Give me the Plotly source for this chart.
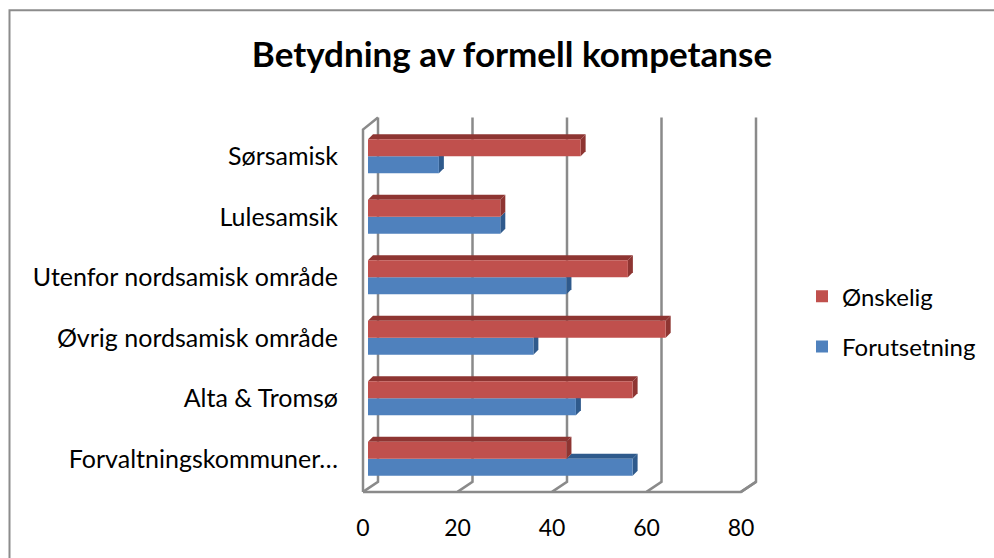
import plotly.graph_objects as go

categories = ["Forvaltningskommuner…", "Alta & Tromsø", "Øvrig nordsamisk område",
              "Utenfor nordsamisk område", "Lulesamsik", "Sørsamisk"]
forutsetning = [56, 44, 35, 42, 28, 15]
onskelig = [42, 56, 63, 55, 28, 45]
x_ticks = [0, 20, 40, 60, 80]

W, H = 994, 558
L, R = 368, 746          # pixel extent of x range [0, 80]
T, B = 125.5, 489.1      # pixel extent of y range [-0.5, 5.5]
XMAX = 80
PXU = XMAX / (R - L)     # data units per pixel (x)
YU = 6 / (B - T)         # data units per pixel (y)

def px(x):
    return (x - L) / (R - L)

def py(y):
    return (B - y) / (B - T)

RED, BLUE = "#C0504D", "#4F81BD"
RED_D, BLUE_D = "#8E3532", "#2F5A8C"
GRID = "#8A8A8A"
FONT = "Lato"

ypos = list(range(len(categories)))
BW = 0.28

fig = go.Figure()
fig.add_trace(go.Bar(y=ypos, x=forutsetning, orientation="h", name="Forutsetning",
                     marker=dict(color=BLUE, line=dict(width=0)), width=BW, offset=-BW,
                     legendgroup="b", legendrank=2))
fig.add_trace(go.Bar(y=ypos, x=onskelig, orientation="h", name="Ønskelig",
                     marker=dict(color=RED, line=dict(width=0)), width=BW, offset=0,
                     legendgroup="a", legendrank=1))

shapes = []
# 3D frame: gridlines (back wall + floor diagonal), left wall, floor
for v in x_ticks:
    xb = px(L + v / PXU + 10)
    xf = px(L + v / PXU - 5)
    shapes.append(dict(type="path", xref="paper", yref="paper", layer="below",
                       path=f"M {xb},{py(117)} L {xb},{py(482)} L {xf},{py(492)}",
                       line=dict(color=GRID, width=2.5)))
shapes.append(dict(type="path", xref="paper", yref="paper", layer="below",
                   path=f"M {px(363)},{py(492)} L {px(363)},{py(129)} L {px(378)},{py(117)}",
                   line=dict(color=GRID, width=2.5)))
shapes.append(dict(type="path", xref="paper", yref="paper", layer="below",
                   path=f"M {px(363)},{py(492)} L {px(741)},{py(492)} L {px(756)},{py(482)}",
                   line=dict(color=GRID, width=2.5)))

# 3D bar faces
dx, dy = 5 * PXU, 5 * YU
for i, (b, r) in enumerate(zip(forutsetning, onskelig)):
    y0 = i - BW
    y1 = i
    if b > r:
        shapes.append(dict(type="path", xref="x", yref="y", layer="below",
                           path=f"M {r},{y1} L {b},{y1} L {b+dx},{y1+dy} L {r+dx},{y1+dy} Z",
                           fillcolor=BLUE_D, line=dict(width=0)))
    shapes.append(dict(type="path", xref="x", yref="y", layer="below",
                       path=f"M {b},{y0} L {b},{y1} L {b+dx},{y1+dy} L {b+dx},{y0+dy} Z",
                       fillcolor=BLUE_D, line=dict(width=0)))
    ry0, ry1 = i, i + BW
    shapes.append(dict(type="path", xref="x", yref="y", layer="below",
                       path=f"M 0,{ry1} L {r},{ry1} L {r+dx},{ry1+dy} L {dx},{ry1+dy} Z",
                       fillcolor=RED_D, line=dict(width=0)))
    shapes.append(dict(type="path", xref="x", yref="y", layer="below",
                       path=f"M {r},{ry0} L {r},{ry1} L {r+dx},{ry1+dy} L {r+dx},{ry0+dy} Z",
                       fillcolor=RED_D, line=dict(width=0)))

# chart border
shapes.append(dict(type="path", xref="paper", yref="paper", layer="above",
                   path=f"M {px(9.5)},{py(570)} L {px(9.5)},{py(9.5)} L {px(1010)},{py(9.5)}",
                   line=dict(color="#8C8C8C", width=2)))

fig.update_layout(
    width=W, height=H,
    margin=dict(l=L, r=W - R, t=T, b=H - B, pad=0),
    paper_bgcolor="white", plot_bgcolor="rgba(0,0,0,0)",
    barmode="overlay",
    font=dict(family=FONT, color="black", size=24),
    title=dict(text="<b>Betydning av formell kompetanse</b>", xref="container",
               x=512 / W, xanchor="center",
               yref="container", y=1 - 55 / H, yanchor="middle",
               font=dict(family=FONT, size=35, color="black")),
    xaxis=dict(range=[0, XMAX], tickvals=x_ticks, ticktext=[str(v) for v in x_ticks],
               showgrid=False, zeroline=False, showline=False, ticks="",
               ticklabelstandoff=23, ticklabelshift=-5, tickfont=dict(size=23)),
    yaxis=dict(range=[-0.5, 5.5], tickvals=ypos, ticktext=categories,
               showgrid=False, zeroline=False, showline=False, ticks="",
               ticklabelstandoff=29, tickfont=dict(size=25)),
    legend=dict(x=px(802), xanchor="left", y=py(274), yanchor="top",
                traceorder="grouped", tracegroupgap=16,
                font=dict(size=24), bgcolor="rgba(0,0,0,0)"),
    shapes=shapes,
)

fig.write_html("out.html",
               config={"displayModeBar": False},
               post_script="document.body.style.margin='0px';"
                           "document.documentElement.style.overflow='hidden';")
